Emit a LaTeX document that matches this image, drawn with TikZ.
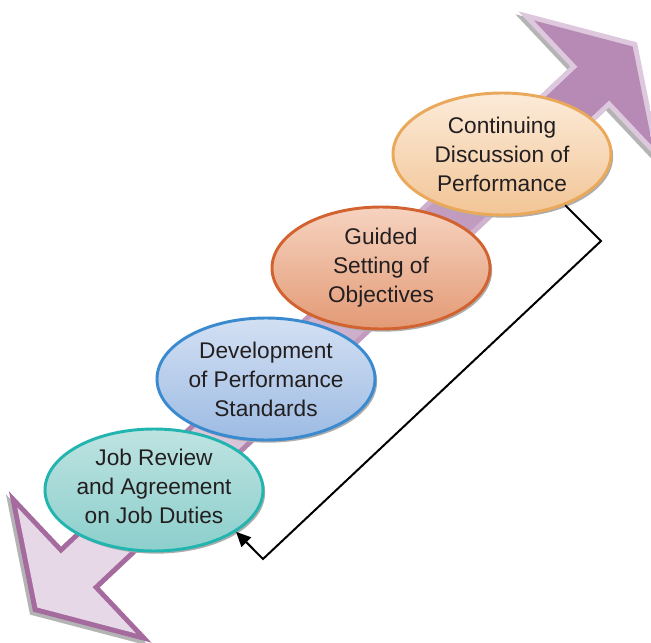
\documentclass[tikz,border=0pt]{standalone}
\usepackage{fontspec}
\setmainfont{Liberation Sans}
\usetikzlibrary{shapes.geometric,shadows,arrows.meta,calc}
\definecolor{arrpurple}{HTML}{A56B9F}
\definecolor{arrlight}{HTML}{E6D8E6}
\definecolor{arrmid}{HTML}{B68AB4}
\definecolor{arrpale}{HTML}{DDC8DD}
\definecolor{shadowgray}{HTML}{B4B4B4}
\definecolor{textgray}{HTML}{231F20}
\definecolor{tealB}{HTML}{22B5B0}
\definecolor{tealT}{HTML}{BEE3E1}
\definecolor{tealD}{HTML}{8CCFCC}
\definecolor{blueB}{HTML}{3A8AD0}
\definecolor{blueT}{HTML}{D3E0F3}
\definecolor{blueD}{HTML}{9DBBE3}
\definecolor{redB}{HTML}{D2622F}
\definecolor{redT}{HTML}{F6D3C0}
\definecolor{redD}{HTML}{E39A75}
\definecolor{peachB}{HTML}{EAA85A}
\definecolor{peachT}{HTML}{FCEBD9}
\definecolor{peachD}{HTML}{F2C596}
\tikzset{
  stage/.style={ellipse, minimum width=163.5pt, minimum height=91.5pt, inner sep=0pt,
    line width=2.2pt,
    drop shadow={shadow xshift=1.6pt, shadow yshift=-2pt, fill=black!32, opacity=1}},
  lbl/.style={align=center, font=\fontsize{17}{21.75}\selectfont, text=textgray, inner sep=0pt},
  feedback/.style={line width=1.5pt, line join=miter, -{Triangle[length=11pt,width=10pt]}}
}
\begin{document}
\begin{tikzpicture}[x=0.75pt,y=-0.75pt]
\useasboundingbox (0,0) rectangle (651,643);
\begin{scope}
\clip (0,0) rectangle (651,643);
% shadow of the double arrow
\begin{scope}[shift={(332,330)},rotate=43.3]
\fill[shadowgray] (-415,0) -- (-350,104) -- (-350,28) -- (350,28) -- (350,104) -- (415,0)
  -- (350,-104) -- (350,-28) -- (-350,-28) -- (-350,-104) -- cycle;
\end{scope}
\begin{scope}[shift={(335,327)},rotate=43.3]
\shade[top color=arrpale, bottom color=arrpurple, shading angle=-46.7]
  (-415,0) -- (-350,104) -- (-350,28) -- (350,28) -- (350,104) -- (415,0)
  -- (350,-104) -- (350,-28) -- (-350,-28) -- (-350,-104) -- cycle;
\shade[top color=arrmid, bottom color=arrlight, shading angle=-46.7]
  (-409,0) -- (-355,86.6) -- (-355,23) -- (355,23) -- (355,86.6) -- (409,0)
  -- (355,-86.6) -- (355,-23) -- (-355,-23) -- (-355,-86.6) -- cycle;
\end{scope}
\end{scope}
% stages
\node[stage, draw=tealB, top color=tealT, bottom color=tealD,
  label={[lbl,yshift=3pt]center:{Job Review\\and Agreement\\on Job Duties}}] (jobr) at (154,490) {};
\node[stage, draw=blueB, top color=blueT, bottom color=blueD,
  label={[lbl]center:{Development\\of Performance\\Standards}}] (dev) at (266,379) {};
\node[stage, draw=redB, top color=redT, bottom color=redD,
  label={[lbl]center:{Guided\\Setting of\\Objectives}}] (guid) at (381,268) {};
\node[stage, draw=peachB, top color=peachT, bottom color=peachD,
  label={[lbl]center:{Continuing\\Discussion of\\Performance}}] (cont) at (502,154) {};
% feedback connector
\coordinate (k1) at (601,241);
\coordinate (k2) at (263,559);
\draw[feedback] (cont.-39) -- (k1) -- (k2) -- (jobr.-27);
\end{tikzpicture}
\end{document}
